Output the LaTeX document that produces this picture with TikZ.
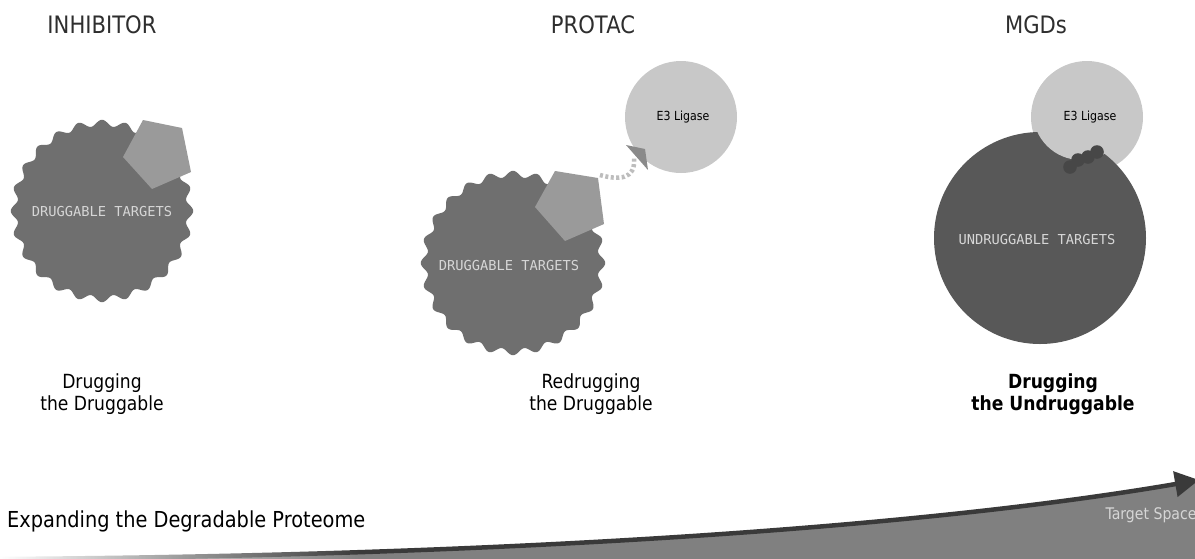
\documentclass[tikz,border=0pt]{standalone}
\usepackage{fontspec}
\setmainfont{DejaVu Sans}[FakeStretch=0.88]
\newfontfamily\monof{DejaVu Sans Mono}
\usetikzlibrary{arrows.meta,fadings}
\definecolor{wavegray}{HTML}{6F6F6F}
\definecolor{pentgray}{HTML}{9A9A9A}
\definecolor{ligase}{HTML}{C8C8C8}
\definecolor{darkcirc}{HTML}{585858}
\definecolor{trigray}{HTML}{8A8A8A}
\definecolor{dashgray}{HTML}{BDBDBD}
\definecolor{molgray}{HTML}{474747}
\definecolor{areagray}{HTML}{808080}
\definecolor{curvegray}{HTML}{3A3A3A}
\definecolor{titlegray}{HTML}{2E2E2E}
\definecolor{innertxt}{HTML}{D6D6D6}
\newcommand\wavydisc[3]{%
  \fill[wavegray] plot[domain=0:360,samples=481,variable=\t]
    ({#1+(#3+3.2*cos(24*\t))*cos(\t)},{#2+(#3+3.2*cos(24*\t))*sin(\t)}) -- cycle;}
\begin{document}
\begin{tikzpicture}[x=1pt,y=-1pt,
  titletxt/.style={font=\fontsize{24}{27}\selectfont, text=titlegray, inner sep=0pt},
  lbltxt/.style={font=\fontsize{19.5}{22}\selectfont, text=black, align=center, inner sep=0pt},
  innerlbl/.style={font=\monof\fontsize{13.7}{15}\selectfont, text=innertxt, inner sep=0pt},
  e3lbl/.style={font=\fontsize{12.5}{14}\selectfont, text=black, inner sep=0pt},
  linker/.style={draw=dashgray, line width=4.5pt, dash pattern=on 3pt off 2.5pt}]
\useasboundingbox (0,0) rectangle (1195,558);
\clip (0,0) rectangle (1195,558);
\fill[white] (0,0) rectangle (1195,558);

% ---------- titles
\node[titletxt] (tinh) at (102,25) {INHIBITOR};
\node[titletxt] (tpro) at (593,25) {PROTAC};
\node[titletxt] (tmgd) at (1036,25) {MGDs};

% ---------- INHIBITOR
\wavydisc{102}{211}{88}
\fill[pentgray] (123,157) -- (143,120) -- (182,128) -- (191,172) -- (152,189) -- cycle;
\node[innerlbl] (dt1) at (102,212) {DRUGGABLE TARGETS};
\node[lbltxt] (l1) at (102,394) {Drugging\\the Druggable};

% ---------- PROTAC
\fill[ligase] (681,117) circle[radius=56];
\node[e3lbl] (e3a) at (683,117) {E3 Ligase};
\fill[trigray] (626,145) -- (645,149) -- (648,170) -- cycle;
\coordinate (pv) at (600,175);
\coordinate (tv) at (634,158);
\draw[linker] (pv) .. controls (618,180) and (636,180) .. (tv);
\wavydisc{513}{263}{89}
\fill[pentgray] (535,207) -- (555,171) -- (598,178) -- (604,224) -- (565,241) -- cycle;
\node[innerlbl] (dt2) at (509,266) {DRUGGABLE TARGETS};
\node[lbltxt] (l2) at (591,394) {Redrugging\\the Druggable};

% ---------- MGDs
\fill[ligase] (1087,117) circle[radius=56];
\fill[darkcirc] (1040,238) circle[radius=106];
\fill[ligase] (1081,112) circle[radius=48];
\foreach \p/\q in {1070/167,1078/160,1088/157,1097/152}
  \fill[molgray] (\p,\q) circle[radius=6.8];
\node[e3lbl] (e3b) at (1090,117) {E3 Ligase};
\node[innerlbl] (ut) at (1037,240) {UNDRUGGABLE TARGETS};
\node[lbltxt, font=\bfseries\fontsize{19.5}{22}\selectfont] (l3) at (1053,394) {Drugging\\the Undruggable};

% ---------- bottom area
\coordinate (cs) at (0,559);
\coordinate (ce) at (1199,480);
\fill[areagray] (cs) .. controls (500,556) and (920,528) .. (ce) -- (1200,562) -- (0,562) -- cycle;
\draw[curvegray, line width=4.5pt, -{Triangle[length=24pt,width=25pt]}]
  (cs) .. controls (500,556) and (920,528) .. (ce);
\fill[white, path fading=east] (0,530) rectangle (360,562);
\node[font=\fontsize{22}{26}\selectfont, anchor=west, inner sep=0pt] (exp) at (7,521) {Expanding the Degradable Proteome};
\node[font=\fontsize{16}{18}\selectfont, text=innertxt, inner sep=0pt] (ts) at (1151,515) {Target Space};
\end{tikzpicture}
\end{document}
